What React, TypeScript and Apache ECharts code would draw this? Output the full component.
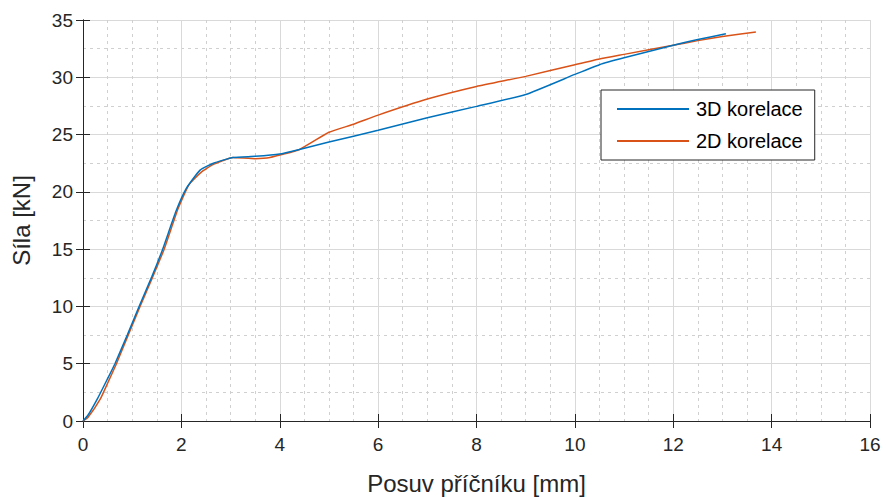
import React, { useEffect, useRef } from "react";
import * as echarts from "echarts";

const xTicks = [0, 2, 4, 6, 8, 10, 12, 14, 16];
const yTicks = [0, 5, 10, 15, 20, 25, 30, 35];

const x3d = [0, 0.1, 0.3, 0.5, 0.65, 0.9, 1.14, 1.4, 1.62, 1.89, 2.1, 2.38, 2.65, 3.05, 3.5, 4.0, 4.4, 5.0, 6.0, 7.0, 8.0, 9.0, 10.0, 10.5, 11.0, 12.0, 12.5, 13.07];
const y3d = [0, 0.5, 2.0, 3.7, 5, 7.5, 10, 12.6, 15, 18.3, 20.3, 21.9, 22.5, 23.0, 23.1, 23.3, 23.7, 24.35, 25.37, 26.47, 27.46, 28.5, 30.25, 31.1, 31.7, 32.8, 33.3, 33.8];

const x2d = [0, 0.1, 0.35, 0.5, 0.68, 0.9, 1.16, 1.4, 1.65, 1.93, 2.15, 2.4, 2.65, 3.05, 3.5, 3.8, 4.4, 5.0, 5.5, 6.0, 7.0, 8.0, 9.0, 10.0, 10.5, 11.0, 12.0, 12.5, 13.0, 13.68];
const y2d = [0, 0.3, 1.9, 3.3, 5, 7.3, 10, 12.4, 15, 18.5, 20.6, 21.7, 22.4, 23.0, 22.9, 23.0, 23.7, 25.2, 25.9, 26.7, 28.1, 29.2, 30.08, 31.1, 31.6, 32.0, 32.8, 33.2, 33.55, 33.95];

const seriesNames = ["3D korelace", "2D korelace"];
const colors = ["#0072BD", "#D95319"];

const FONT = "'Liberation Sans', Arial, Helvetica, sans-serif";
const TXT = "#262626";

export default function App() {
  const ref = useRef<HTMLDivElement>(null);
  useEffect(() => {
    document.body.style.margin = "0";
    const chart = echarts.init(ref.current!, undefined, { renderer: "svg" });
    const xMin = xTicks[0], xMax = xTicks[xTicks.length - 1];
    const yMin = yTicks[0], yMax = yTicks[yTicks.length - 1];
    const axisLine = { show: true, lineStyle: { color: TXT, width: 1 } };
    const tick = { show: true, inside: true, length: 7, lineStyle: { color: TXT, width: 1 } };
    chart.setOption({
      animation: false,
      textStyle: { fontFamily: FONT },
      grid: { left: 83, right: 16, top: 20, bottom: 76, containLabel: false, outerBoundsMode: "none" },
      legend: {
        orient: "vertical",
        left: 601,
        top: 90,
        data: seriesNames.map((n) => ({ name: n, icon: "rect" })),
        backgroundColor: "#ffffff",
        borderColor: TXT,
        borderWidth: 1,
        borderRadius: 0,
        padding: [9, 12, 9, 16],
        itemWidth: 72,
        itemHeight: 2,
        itemGap: 12,
        textStyle: { fontSize: 20, lineHeight: 20, color: "#000", fontFamily: FONT, padding: [0, 0, 0, 2] },
      },
      xAxis: [
        {
          type: "value",
          min: xMin,
          max: xMax,
          interval: 2,
          name: "Posuv příčníku [mm]",
          nameLocation: "middle",
          nameGap: 50,
          nameTextStyle: { fontSize: 24, color: TXT, fontFamily: FONT },
          axisLine,
          axisTick: tick,
          axisLabel: { fontSize: 19, color: TXT, margin: 14, fontFamily: FONT },
          splitLine: { show: true, lineStyle: { color: "#d9d9d9", width: 1 } },
          minorTick: { show: false, splitNumber: 4 },
          minorSplitLine: { show: true, lineStyle: { color: "#d0d0d0", width: 1, type: [3, 4] } },
        },
        {
          type: "value",
          position: "top",
          min: xMin,
          max: xMax,
          interval: 2,
          axisLine,
          axisTick: tick,
          axisLabel: { show: false },
          splitLine: { show: false },
        },
      ],
      yAxis: [
        {
          type: "value",
          min: yMin,
          max: yMax,
          interval: 5,
          name: "Síla [kN]",
          nameLocation: "middle",
          nameGap: 50,
          nameTextStyle: { fontSize: 24, color: TXT, fontFamily: FONT },
          axisLine,
          axisTick: tick,
          axisLabel: { fontSize: 19, color: TXT, margin: 10, fontFamily: FONT },
          splitLine: { show: true, lineStyle: { color: "#d9d9d9", width: 1 } },
          minorTick: { show: false, splitNumber: 2 },
          minorSplitLine: { show: true, lineStyle: { color: "#d0d0d0", width: 1, type: [3, 4] } },
        },
        {
          type: "value",
          position: "right",
          min: yMin,
          max: yMax,
          interval: 5,
          axisLine,
          axisTick: tick,
          axisLabel: { show: false },
          splitLine: { show: false },
        },
      ],
      series: [
        {
          name: seriesNames[0],
          type: "line",
          data: x3d.map((x, i) => [x, y3d[i]]),
          symbol: "none",
          smooth: 0.15,
          lineStyle: { color: colors[0], width: 1.5 },
          itemStyle: { color: colors[0] },
          z: 3,
        },
        {
          name: seriesNames[1],
          type: "line",
          data: x2d.map((x, i) => [x, y2d[i]]),
          symbol: "none",
          smooth: 0.15,
          lineStyle: { color: colors[1], width: 1.5 },
          itemStyle: { color: colors[1] },
          z: 2,
        },
      ],
    });
    return () => chart.dispose();
  }, []);
  return <div ref={ref} style={{ width: 886, height: 497 }} />;
}
